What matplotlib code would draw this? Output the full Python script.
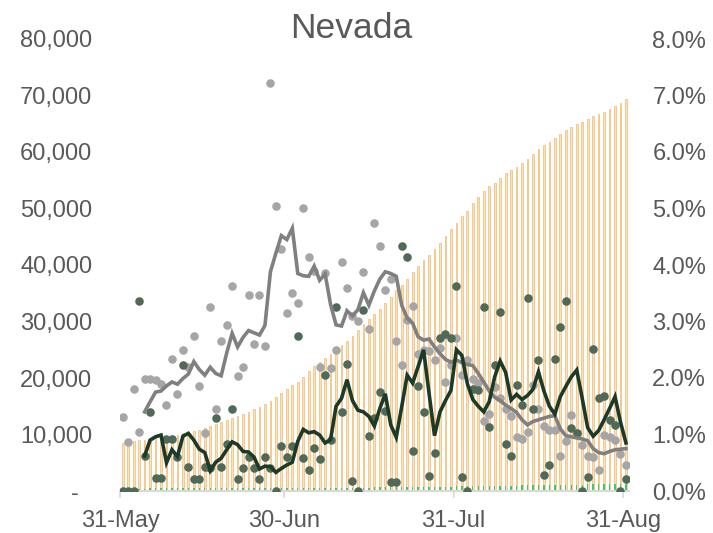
import matplotlib
matplotlib.use('Agg')
import matplotlib.pyplot as plt
import matplotlib.dates as mdates
from matplotlib.ticker import FuncFormatter, FixedLocator
import numpy as np
import pandas as pd

plt.rcParams['font.family'] = ['Liberation Sans', 'DejaVu Sans']

# 31-May .. 31-Aug
dates = pd.date_range('2020-05-31', '2020-08-31', freq='D')

# cumulative cases (left axis)
cases = [8550, 8650, 8830, 8950, 9070, 9250, 9400, 9550, 9700, 9850,
         10000, 10200, 10400, 10650, 10850, 11150, 11450, 11850, 12200, 12600,
         13000, 13350, 13700, 14050, 14450, 14900, 15400, 15950, 16600, 17300,
         18000, 18700, 19300, 20200, 21200, 22100, 22800, 23500, 24300, 25100,
         25800, 26600, 27500, 28500, 29600, 30500, 31300, 32200, 33300, 34400,
         35500, 36500, 37600, 38800, 39900, 40900, 41800, 42900, 43900, 45200,
         46400, 47400, 48700, 49500, 50900, 52000, 53100, 53900, 54500, 55400,
         56200, 56800, 57300, 58000, 58700, 59600, 60500, 61200, 61800, 62400,
         63100, 63900, 64500, 65000, 65300, 65800, 66300, 66800, 67100, 67600,
         68100, 68700, 69300]

# cumulative deaths (left axis)
deaths = [420, 425, 430, 435, 440, 445, 450, 452, 455, 460,
          463, 466, 470, 472, 475, 478, 482, 485, 488, 490,
          493, 495, 498, 500, 503, 505, 508, 510, 512, 515,
          520, 525, 530, 535, 540, 545, 550, 555, 560, 566,
          572, 580, 588, 595, 602, 610, 620, 630, 640, 650,
          660, 672, 685, 700, 712, 725, 738, 750, 762, 775,
          790, 805, 820, 835, 850, 862, 875, 890, 905, 920,
          935, 950, 965, 980, 995, 1010, 1025, 1040, 1055, 1070,
          1085, 1100, 1112, 1125, 1140, 1155, 1170, 1185, 1200, 1215,
          1230, 1245, 1260]

# daily case growth % (grey dots, right axis)
case_growth = [1.31, 0.86, 1.80, 1.04, 1.99, 1.98, 1.96, 1.89, 1.52, 2.34,
               1.72, 2.50, 2.20, 2.75, 1.86, 1.02, 3.26, 1.46, 2.66, 2.93,
               3.62, 2.04, 2.20, 3.47, 2.61, 3.47, 2.57, 7.23, 5.04, 4.28,
               3.15, 3.51, 3.32, 5.01, 4.15, 3.90, 2.20, 3.85, 2.18, 2.50,
               4.05, 3.60, 3.10, 3.01, 3.88, 2.87, 4.75, 4.34, 3.56, 3.75,
               2.66, 2.23, 3.03, 3.27, 2.42, 2.50, 2.47, 2.31, 2.53, 1.93,
               2.23, 2.70, 2.05, 2.32, 1.99, 1.92, 1.24, 1.37, 1.84, 1.64,
               1.46, 1.32, 0.96, 0.92, 1.05, 1.88, 1.45, 1.15, 1.08, 1.08,
               0.62, 0.88, 1.35, 1.02, 0.81, 0.62, 0.61, 0.37, 1.00, 0.95,
               0.90, 0.65, 0.46]

# daily death growth % (dark green dots, right axis)
death_growth = [0.00, 0.00, 0.00, 3.36, 0.62, 1.39, 0.23, 0.23, 0.92, 0.92,
                0.61, 2.23, 0.43, 0.22, 0.22, 0.43, 0.40, 1.29, 0.42, 0.84,
                1.46, 0.21, 0.41, 0.61, 0.41, 0.21, 0.61, 0.40, 0.00, 0.80,
                0.60, 0.80, 2.74, 0.58, 0.38, 0.76, 0.56, 2.05, 0.90, 3.26,
                1.40, 2.25, 0.18, 0.00, 3.20, 0.98, 1.29, 1.76, 1.42, 0.16,
                0.16, 4.34, 4.15, 0.71, 1.85, 1.39, 0.27, 0.68, 2.70, 2.78,
                2.70, 3.63, 0.24, 0.00, 1.80, 1.78, 3.25, 1.13, 2.23, 3.16,
                0.84, 0.62, 1.88, 1.53, 3.42, 1.46, 2.31, 0.28, 0.46, 2.33,
                2.91, 3.36, 1.12, 1.02, 0.00, 0.25, 2.51, 1.64, 1.68, 1.26,
                1.17, 0.00, 0.22]

# 7-day averages, starting 4-Jun
case_avg = [1.40, 1.58, 1.75, 1.77, 1.86, 1.93, 1.89, 1.99, 2.07, 2.29,
            2.15, 2.05, 2.19, 2.08, 2.04, 2.44, 2.79, 2.55, 2.72, 2.84,
            2.80, 2.76, 2.93, 3.88, 4.21, 4.52, 4.45, 4.65, 3.85, 3.81,
            3.80, 3.98, 3.73, 3.84, 3.30, 2.94, 2.92, 3.19, 3.10, 3.21,
            3.51, 3.29, 3.54, 3.75, 3.88, 3.85, 3.80, 3.29, 3.06, 2.97,
            2.73, 2.67, 2.69, 2.55, 2.43, 2.33, 2.28, 2.32, 2.27, 2.24,
            2.22, 2.08, 1.93, 1.77, 1.66, 1.60, 1.52, 1.46, 1.39, 1.26,
            1.17, 1.23, 1.26, 1.29, 1.32, 1.33, 1.10, 0.98, 0.96, 0.94,
            0.92, 0.89, 0.75, 0.68, 0.66, 0.70, 0.73, 0.74, 0.75]

death_avg = [0.62, 0.90, 0.96, 0.99, 0.50, 0.73, 0.61, 0.97, 1.02, 0.90,
             0.74, 0.68, 0.36, 0.51, 0.58, 0.73, 0.87, 0.82, 0.70, 0.69,
             0.60, 0.39, 0.44, 0.43, 0.33, 0.40, 0.46, 0.51, 0.88, 1.09,
             1.03, 1.05, 0.99, 0.85, 0.91, 1.50, 1.64, 1.97, 1.60, 1.43,
             1.40, 1.32, 1.15, 1.46, 1.72, 1.17, 0.95, 1.49, 2.05, 1.91,
             2.20, 2.50, 1.73, 0.98, 1.40, 1.60, 1.78, 2.50, 2.40, 1.90,
             1.62, 1.50, 1.40, 1.58, 2.02, 2.30, 2.10, 1.61, 1.71, 1.62,
             1.69, 1.80, 2.11, 1.77, 1.50, 1.36, 1.67, 1.85, 2.02, 2.14,
             1.64, 1.12, 0.97, 1.07, 1.26, 1.46, 1.67, 1.22, 0.85]

tick_dates = pd.to_datetime(['2020-05-31', '2020-06-30', '2020-07-31', '2020-08-31'])
tick_labels = ['31-May', '30-Jun', '31-Jul', '31-Aug']

TXT = '#595959'

fig = plt.figure(figsize=(7.13, 5.33), dpi=100)
ax = fig.add_axes([120 / 713, 42 / 533, 508.7 / 713, 452 / 533])
ax2 = ax.twinx()

x = mdates.date2num(dates)
ax.bar(x, cases, width=0.32, color='#F9E1BF', edgecolor='#F1BA70', linewidth=0.5, zorder=1)
ax.bar(x, deaths, width=0.25, color='#3DCB6E', zorder=2)

ax2.scatter(x, case_growth, s=38, color='#A6A6A6', linewidths=0, zorder=3)
ax2.scatter(x, death_growth, s=38, color='#506A59', linewidths=0, zorder=4)
ax2.plot(x[4:], case_avg, color='#808080', lw=2.6, zorder=5, solid_joinstyle='miter')
ax2.plot(x[4:], death_avg, color='#1B3A27', lw=2.6, zorder=6, solid_joinstyle='miter')

ax.set_xlim(x[0] - 0.5, x[-1] + 0.5)
ax.set_ylim(0, 80000)
ax2.set_ylim(0, 8)

ax.set_yticks(np.arange(0, 80001, 10000))
ax.yaxis.set_major_formatter(FuncFormatter(lambda v, p: '-  ' if v == 0 else f'{v:,.0f}'))
ax2.set_yticks(np.arange(0, 8.01, 1))
ax2.yaxis.set_major_formatter(FuncFormatter(lambda v, p: f'{v:.1f}%'))

ax.xaxis.set_major_locator(FixedLocator(mdates.date2num(tick_dates) - 0.5))
ax.set_xticklabels(tick_labels)

for a in (ax, ax2):
    for s in a.spines.values():
        s.set_visible(False)
ax.spines['bottom'].set_visible(True)
ax.spines['bottom'].set_color('#D9D9D9')
ax.spines['bottom'].set_linewidth(1.5)

ax.tick_params(axis='x', length=5, width=1.2, color='#D9D9D9', labelsize=17, labelcolor=TXT, pad=9)
ax.tick_params(axis='y', length=0, labelsize=17, labelcolor=TXT, pad=20)
ax2.tick_params(axis='y', length=0, labelsize=17, labelcolor=TXT, pad=17)

fig.text(351 / 713, 1 - 28 / 533, 'Nevada', ha='center', va='center', fontsize=25.5, color=TXT)

fig.savefig('out.png', dpi=100)
